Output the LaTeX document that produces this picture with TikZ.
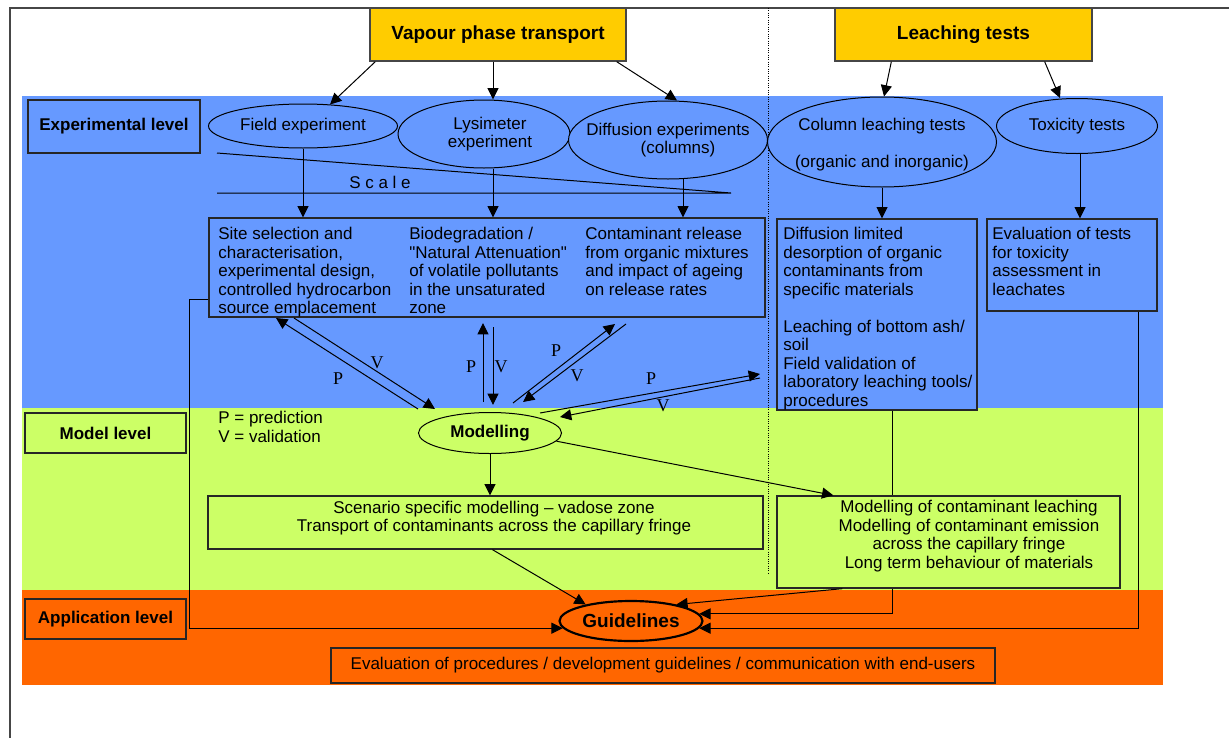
\documentclass[tikz,border=0pt]{standalone}
\usepackage{fontspec}
\setmainfont{Liberation Sans}[Ligatures=TeXOff]
\newfontfamily\pvserif{Liberation Serif}
\usetikzlibrary{shapes.geometric,fit,calc,arrows.meta}
\definecolor{bandblue}{RGB}{102,153,255}
\definecolor{bandgreen}{RGB}{204,255,102}
\definecolor{bandorange}{RGB}{255,102,0}
\definecolor{headyellow}{RGB}{255,204,0}
\definecolor{framegray}{RGB}{70,70,70}
\newcommand\txtfont{\fontsize{10.2pt}{11.1pt}\selectfont}
\newcommand\lblfont{\fontsize{10.2pt}{11.1pt}\selectfont\bfseries}
\newcommand\headfont{\fontsize{11.4pt}{13pt}\selectfont\bfseries}
\newcommand\pvfont{\pvserif\fontsize{10.8pt}{12pt}\selectfont}
\begin{document}
\begin{tikzpicture}[x=0.6pt,y=-0.6pt,
  con/.style={line width=0.6pt},
  arr/.style={con,-{Triangle[length=6.8pt,width=6.6pt]}},
  bx/.style={draw=black!85,line width=0.8pt,inner sep=0pt},
  head/.style={bx,draw=framegray,fill=headyellow},
  lvl/.style={bx},
  hlab/.style={inner sep=0pt,font=\headfont},
  llab/.style={inner sep=0pt,font=\lblfont},
  ell/.style={ellipse,draw,line width=0.6pt,inner sep=0pt,font=\txtfont,align=center,fill=bandblue},
  txt/.style={inner sep=0pt,font=\txtfont,align=left,anchor=north west},
  ctxt/.style={inner sep=0pt,font=\txtfont,align=center},
  pv/.style={inner sep=0pt,font=\pvfont}]
\useasboundingbox (0,0) rectangle (1229,738);
\fill[white] (0,0) rectangle (1229,738);
% bands
\fill[bandblue] (22,96) rectangle (1163,408);
\fill[bandgreen] (22,408) rectangle (1163,590);
\fill[bandorange] (22,590) rectangle (1163,685);
% frame and separator
\draw[framegray,line width=0.8pt] (1229,8) -- (10,8) -- (10,738);
\draw[line width=0.4pt,densely dotted] (768,8) -- (768,573);

% headings
\node[head,fit={(370,8)(626,61)},label={[hlab]center:Vapour phase transport}] (vap) {};
\node[head,fit={(835,8)(1092,61)},label={[hlab]center:Leaching tests}] (leach) {};

% level labels
\node[lvl,fill=bandblue,fit={(28,100)(200,153)},label={[llab]center:Experimental level}] (explev) {};
\node[lvl,fill=bandgreen,fit={(25,413)(186,453)},label={[llab]center:Model level}] (modlev) {};
\node[lvl,fill=bandorange,fit={(25,599)(186,639)},label={[llab]center:Application level}] (applev) {};

% experiments
\node[ell,minimum width=189*0.6pt,minimum height=44*0.6pt] (field) at (303,126) {Field experiment};
\node[ell,minimum width=172*0.6pt,minimum height=68*0.6pt,
  label={[ctxt,xshift=3.6pt]center:{Lysimeter\\experiment}}] (lys) at (484,134) {};
\node[ell,minimum width=199*0.6pt,minimum height=78*0.6pt,
  label={[ctxt]center:{Diffusion experiments\\\hspace*{12pt}(columns)}}] (diff) at (668,140) {};
\node[ell,minimum width=229*0.6pt,minimum height=90*0.6pt,
  label={[ctxt,yshift=-1.8pt]center:{Column leaching tests\\[11.1pt](organic and inorganic)}}] (col) at (882,142) {};
\node[ell,minimum width=161*0.6pt,minimum height=55*0.6pt] (tox) at (1077,126) {Toxicity tests};

% scale wedge
\coordinate (sc1) at (217,153);
\coordinate (sc2) at (731,193);
\coordinate (sc3) at (217,193);
\draw[con] (sc1) -- (sc2) -- (sc3);
\node[ctxt] (scale) at (380,182) {S c a l e};

% experimental boxes
\node[bx,fill=bandblue,fit={(209,218)(765,317)}] (big) {};
\node[txt] (b1) at (218,227) {Site selection and\\characterisation,\\experimental design,\\controlled hydrocarbon\\source emplacement};
\node[txt] (b2) at (409,227) {Biodegradation /\\"Natural Attenuation"\\of volatile pollutants\\in the unsaturated\\zone};
\node[txt] (b3) at (585,227) {Contaminant release\\from organic mixtures\\and impact of ageing\\on release rates};
\node[bx,fill=bandblue,fit={(777,219)(977,410)}] (dbox) {};
\node[txt] (dtxt) at (783,227) {Diffusion limited\\desorption of organic\\contaminants from\\specific materials\\[11.1pt]Leaching of bottom ash/\\soil\\Field validation of\\laboratory leaching tools/\\procedures};
\node[bx,fill=bandblue,fit={(987,219)(1157,311)}] (ebox) {};
\node[txt] (etxt) at (992,227) {Evaluation of tests\\for toxicity\\assessment in\\leachates};

% heading arrows
\draw[arr] ($(vap.south west)+(6,0)$) -- ($(field.north)+(27,1)$);
\coordinate (lysn) at ($(lys.north)+(9,0)$);
\draw[arr] (vap.south -| lysn) -- (lysn);
\draw[arr] ($(vap.south east)+(-10,0)$) -- ($(diff.north)+(9,0)$);
\draw[arr] ($(leach.south west)+(57,0)$) -- ($(col.north)+(2,0)$);
\draw[arr] ($(leach.south east)+(-48,0)$) -- ($(tox.north)+(-17,0)$);

% experiment to box arrows
\draw[arr] (field.south) -- (field.south |- big.north);
\coordinate (lyss) at ($(lys.south)+(9,0)$);
\draw[arr] (lyss) -- (lyss |- big.north);
\coordinate (diffs) at ($(diff.south)+(15,-0.5)$);
\draw[arr] (diffs) -- (diffs |- big.north);
\draw[arr] (col.south) -- (col.south |- dbox.north);
\coordinate (toxs) at ($(tox.south)+(3,0)$);
\draw[arr] (toxs) -- (toxs |- ebox.north);

% model level
\node[ell,fill=bandgreen,font=\lblfont,minimum width=143*0.6pt,minimum height=41*0.6pt] (mod) at (490,433) {Modelling};
\node[txt] (pvkey) at (218,411) {P = prediction\\V = validation};

% P / V arrows
\coordinate (a1s) at (418,409); \coordinate (a1t) at (276,318);
\coordinate (b1s) at (294,318); \coordinate (b1t) at (435,409);
\coordinate (a2s) at (483,402); \coordinate (a2t) at (483,323);
\coordinate (b2s) at (493,327); \coordinate (b2t) at (493,405);
\coordinate (a3s) at (513,403); \coordinate (a3t) at (615,324);
\coordinate (b3s) at (626,324); \coordinate (b3t) at (523,402);
\coordinate (a4s) at (540,413); \coordinate (a4t) at (760,374);
\coordinate (b4s) at (760,378); \coordinate (b4t) at (560,417);
\draw[arr] (a1s) -- (a1t);
\draw[arr] (b1s) -- (b1t);
\draw[arr] (a2s) -- (a2t);
\draw[arr] (b2s) -- (b2t);
\draw[arr] (a3s) -- (a3t);
\draw[arr] (b3s) -- (b3t);
\draw[arr] (a4s) -- (a4t);
\draw[arr] (b4s) -- (b4t);
\node[pv] (p1) at (338,379) {P};
\node[pv] (v1) at (377,363) {V};
\node[pv] (p2) at (471,367) {P};
\node[pv] (v2) at (501,367) {V};
\node[pv] (p3) at (556,351) {P};
\node[pv] (v3) at (577,376) {V};
\node[pv] (p4) at (651,379) {P};
\node[pv] (v4) at (663,406) {V};

% scenario box
\node[bx,fill=bandgreen,fit={(208,496)(763,549)}] (scen) {};
\node[ctxt] (scentxt) at (494,518) {Scenario specific modelling – vadose zone\\Transport of contaminants across the capillary fringe};

% application level
\node[ellipse,draw,line width=1.3pt,fill=bandorange,font=\headfont,inner sep=0pt,minimum width=143*0.6pt,minimum height=40*0.6pt] (guide) at (631,621) {Guidelines};
\node[bx,fill=bandorange,fit={(331,648)(995,683)},label={[ctxt]center:Evaluation of procedures / development guidelines / communication with end-users}] (evalbox) {};

% connector behind the leaching model box
\draw[arr] ($(dbox.south)+(15,0)$) |- (guide.6);

% leaching model box
\node[bx,fill=bandgreen,fit={(777,496)(1120,588)}] (lmod) {};
\node[ctxt] (lmodtxt) at (969,536) {Modelling of contaminant leaching\\Modelling of contaminant emission\\across the capillary fringe\\Long term behaviour of materials};

% model arrows
\draw[arr] (mod.south) -- (mod.south |- scen.north);
\draw[arr] (mod.-7) -- ($(lmod.north west)+(57,0)$);

% arrows to guidelines
\draw[arr] ($(scen.south)+(7,0)$) -- (guide.160);
\draw[arr] ($(lmod.south west)+(66,0)$) -- (guide.20);
\draw[arr] ($(ebox.south)+(66,0)$) |- (guide.-6);
\draw[arr] ($(big.west)+(0,31.5)$) -- ++(-19,0) |- (guide.186);
\end{tikzpicture}
\end{document}
